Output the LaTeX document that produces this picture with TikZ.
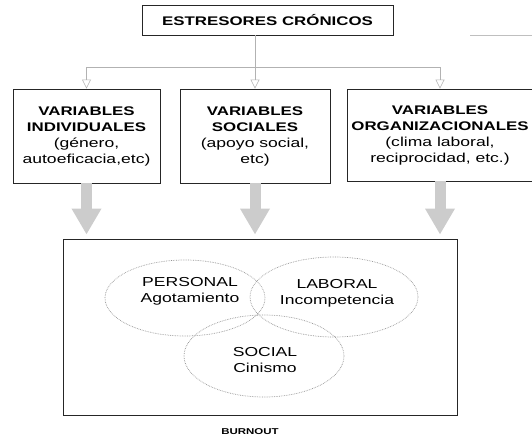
\documentclass[tikz,border=0pt]{standalone}
\usepackage{fontspec}
\setmainfont[FakeStretch=1.35]{Liberation Sans}
\usepackage{tikz}
\usetikzlibrary{arrows.meta,shapes.geometric,positioning}

\newcommand{\cab}[1]{\textbf{\fontsize{12.5}{16}\selectfont #1}}

\begin{document}
\begin{tikzpicture}[x=1pt,y=-1pt,
	caja/.style={draw=black!85, line width=0.8pt, align=center, inner sep=0pt},
	letra/.style={font=\fontsize{13}{16}\selectfont, align=center},
	flechita/.style={draw=gray!60, line width=0.6pt, -{Triangle[open,width=9pt,length=9pt]}},
	flechota/.style={draw=gray!40, line width=11pt, shorten >=4pt, -{Triangle[width=28pt,length=26pt]}},
	circulo/.style={ellipse, draw=gray!85, densely dotted, line width=0.7pt, inner sep=0pt}]
			%\draw [help lines] (0,0) grid (532,442);
			\useasboundingbox (0,0) rectangle (532,442);

			\node[caja, minimum width=251pt, minimum height=30pt, font=\fontsize{12.5}{15}\selectfont\bfseries] (estres) at (267.5,20) {ESTRESORES CRÓNICOS};
			\draw[gray!50] (470,35) -- (532,35);

			\node[caja, letra, minimum width=147pt, minimum height=94pt] (indiv) at (86.5,136) {\cab{VARIABLES}\\\cab{INDIVIDUALES}\\(género,\\autoeficacia,etc)};
			\node[caja, letra, minimum width=150pt, minimum height=94pt] (social) at (255,136) {\cab{VARIABLES}\\\cab{SOCIALES}\\(apoyo social,\\etc)};
			\node[caja, letra, minimum width=186pt, minimum height=92pt] (organ) at (440,135) {\cab{VARIABLES}\\\cab{ORGANIZACIONALES}\\(clima laboral,\\reciprocidad, etc.)};

			\coordinate (centro) at (255,67);
			\draw[gray!60, line width=0.6pt] (estres.south -| centro) -- (centro);
			\draw[flechita] (centro) -| (indiv.north);
			\draw[flechita] (centro) -- (social.north);
			\draw[flechita] (centro) -| (organ.north);

			\node[caja, minimum width=394pt, minimum height=176pt] (burn) at (260,327) {};
			\node[font=\fontsize{8.5}{10}\selectfont\bfseries] (nombre) at (250,432) {BURNOUT};

			\draw[flechota] (indiv.south) -- (indiv.south |- burn.north);
			\draw[flechota] (social.south) -- (social.south |- burn.north);
			\draw[flechota] (organ.south) -- (organ.south |- burn.north);

			\node[circulo, minimum width=160pt, minimum height=76pt] (pers) at (185,298) {};
			\node[circulo, minimum width=168pt, minimum height=80pt] (lab) at (334,297) {};
			\node[circulo, minimum width=160pt, minimum height=82pt] (soc) at (264,356) {};

			\node[letra] at (190,291) {PERSONAL\\Agotamiento};
			\node[letra] at (337,293) {LABORAL\\Incompetencia};
			\node[letra] at (265,360) {SOCIAL\\Cinismo};
		\end{tikzpicture}
\end{document}
